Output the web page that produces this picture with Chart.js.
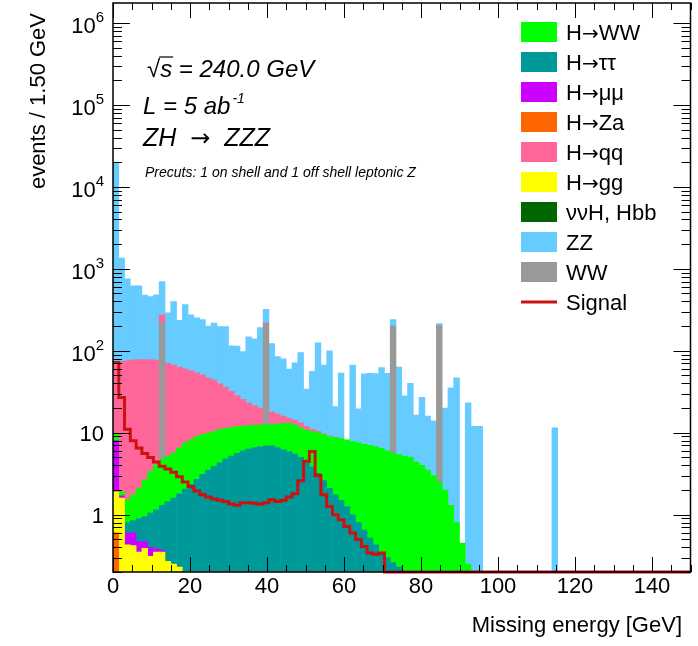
<!DOCTYPE html>
<html>
<head>
<meta charset="utf-8">
<script src="https://cdn.jsdelivr.net/npm/chart.js@4.4.1/dist/chart.umd.min.js"></script>
<style>
  body { margin: 0; background: #fff; }
  canvas { display: block; }
</style>
</head>
<body>
<canvas id="missing-energy" width="698" height="646"></canvas>
<script>
// Missing energy for ZH -> ZZZ, 100 bins of 1.5 GeV between 0 and 150 GeV
var BIN_WIDTH = 1.5;
var N_BINS = 100;
var X_MIN = 0, X_MAX = 150;
var Y_MIN = 0.2, Y_MAX = 1.75e6;
var FONT = '"Liberation Sans", Arial, Helvetica, sans-serif';
var SYMBOL_FONT = '"DejaVu Sans", sans-serif';

var x_ticks = [0, 20, 40, 60, 80, 100, 120, 140];
var y_ticks = [1, 10, 1e2, 1e3, 1e4, 1e5, 1e6];
var y_tick_labels = ['1', '10', '10^2', '10^3', '10^4', '10^5', '10^6'];

// events / bin, stacked bottom -> top in the order of the datasets below
var h_za = [
  0.6, 0, 0, 0, 0, 0, 0, 0, 0, 0,
  0, 0, 0, 0, 0, 0, 0, 0, 0, 0,
  0, 0, 0, 0, 0, 0, 0, 0, 0, 0,
  0, 0, 0, 0, 0, 0, 0, 0, 0, 0,
  0, 0, 0, 0, 0, 0, 0, 0, 0, 0,
  0, 0, 0, 0, 0, 0, 0, 0, 0, 0,
  0, 0, 0, 0, 0, 0, 0, 0, 0, 0,
  0, 0, 0, 0, 0, 0, 0, 0, 0, 0,
  0, 0, 0, 0, 0, 0, 0, 0, 0, 0,
  0, 0, 0, 0, 0, 0, 0, 0, 0, 0
];
var h_gg = [
  1.3, 1.6, 0.43, 0.42, 0.35, 0.39, 0.31, 0.35, 0.35, 0.27,
  0.25, 0.23, 0, 0, 0, 0, 0, 0, 0, 0,
  0, 0, 0, 0, 0, 0, 0, 0, 0, 0,
  0, 0, 0, 0, 0, 0, 0, 0, 0, 0,
  0, 0, 0, 0, 0, 0, 0, 0, 0, 0,
  0, 0, 0, 0, 0, 0, 0, 0, 0, 0,
  0, 0, 0, 0, 0, 0, 0, 0, 0, 0,
  0, 0, 0, 0, 0, 0, 0, 0, 0, 0,
  0, 0, 0, 0, 0, 0, 0, 0, 0, 0,
  0, 0, 0, 0, 0, 0, 0, 0, 0, 0
];
var h_mumu = [
  6.1, 0.1, 0.17, 0.18, 0.12, 0.08, 0.09, 0.03, 0.02, 0,
  0, 0, 0, 0, 0, 0, 0, 0, 0, 0,
  0, 0, 0, 0, 0, 0, 0, 0, 0, 0,
  0, 0, 0, 0, 0, 0, 0, 0, 0, 0,
  0, 0, 0, 0, 0, 0, 0, 0, 0, 0,
  0, 0, 0, 0, 0, 0, 0, 0, 0, 0,
  0, 0, 0, 0, 0, 0, 0, 0, 0, 0,
  0, 0, 0, 0, 0, 0, 0, 0, 0, 0,
  0, 0, 0, 0, 0, 0, 0, 0, 0, 0,
  0, 0, 0, 0, 0, 0, 0, 0, 0, 0
];
var h_tautau = [
  0, 0, 0.2, 0.25, 0.43, 0.48, 0.65, 0.77, 0.93, 1.18,
  1.35, 1.57, 2.05, 2.35, 2.7, 3.1, 3.5, 3.9, 4.3, 4.8,
  5.2, 5.6, 6.0, 6.3, 6.6, 6.8, 6.9, 6.9, 6.6, 6.2,
  5.9, 5.5, 5.0, 4.4, 3.8, 3.2, 2.6, 2.1, 1.75, 1.5,
  1.26, 1.0, 0.8, 0.65, 0.52, 0.43, 0.35, 0.3, 0.26, 0.23,
  0, 0, 0, 0, 0, 0, 0, 0, 0, 0,
  0, 0, 0, 0, 0, 0, 0, 0, 0, 0,
  0, 0, 0, 0, 0, 0, 0, 0, 0, 0,
  0, 0, 0, 0, 0, 0, 0, 0, 0, 0,
  0, 0, 0, 0, 0, 0, 0, 0, 0, 0
];
var h_ww = [
  1.5, 0.2, 0.72, 0.9, 1.2, 1.72, 2.32, 2.92, 3.4, 3.75,
  4.1, 4.75, 5.5, 5.85, 6.3, 6.4, 6.4, 6.5, 6.6, 6.5,
  6.4, 6.3, 6.0, 5.9, 5.7, 5.6, 5.6, 5.7, 6.2, 6.8,
  7.1, 7.0, 6.5, 6.4, 6.5, 6.8, 6.9, 6.9, 6.95, 7.0,
  6.94, 6.8, 6.8, 6.55, 6.48, 6.37, 6.05, 5.7, 5.34, 5.17,
  5.2, 5.0, 4.4, 4.0, 3.5, 3.0, 2.5, 2.0, 1.3, 0.8,
  0.45, 0.25, 0, 0, 0, 0, 0, 0, 0, 0,
  0, 0, 0, 0, 0, 0, 0, 0, 0, 0,
  0, 0, 0, 0, 0, 0, 0, 0, 0, 0,
  0, 0, 0, 0, 0, 0, 0, 0, 0, 0
];
var bkg_ww = [
  0, 0, 0, 0, 0, 0, 0, 0, 214, 0,
  0, 0, 0, 0, 0, 0, 0, 0, 0, 0,
  0, 0, 0, 0, 0, 0, 200, 0, 0, 0,
  0, 0, 0, 0, 0, 0, 0, 0, 0, 0,
  0, 0, 0, 0, 0, 0, 0, 0, 195, 0,
  0, 0, 0, 0, 0, 0, 200, 0, 0, 0,
  0, 0, 0, 0, 0, 0, 0, 0, 0, 0,
  0, 0, 0, 0, 0, 0, 0, 0, 0, 0,
  0, 0, 0, 0, 0, 0, 0, 0, 0, 0,
  0, 0, 0, 0, 0, 0, 0, 0, 0, 0
];
var h_qq = [
  61.5, 72, 74.5, 76, 76, 75, 74.5, 73, 56, 65,
  61, 56.5, 52.5, 48.8, 45, 41.5, 37, 33.6, 29, 24.7,
  20.4, 16.6, 13.5, 10.8, 9.2, 7.6, 6.5, 5.4, 4.2, 3.0,
  2.0, 1.7, 1.7, 1.2, 0.7, 0.4, 0.2, 0.15, 0.1, 0.05,
  0, 0, 0, 0, 0, 0, 0, 0, 0, 0,
  0, 0, 0, 0, 0, 0, 0, 0, 0, 0,
  0, 0, 0, 0, 0, 0, 0, 0, 0, 0,
  0, 0, 0, 0, 0, 0, 0, 0, 0, 0,
  0, 0, 0, 0, 0, 0, 0, 0, 0, 0,
  0, 0, 0, 0, 0, 0, 0, 0, 0, 0
];
var h_nunuh = [
  0, 0, 0, 0, 0, 0, 0, 0, 0, 0,
  0, 0, 0, 0, 0, 0, 0, 0, 0, 0,
  0, 0, 0, 0, 0, 0, 0, 0, 0, 0,
  0, 0, 0, 0, 0, 0, 0, 0, 0, 0,
  0, 0, 0, 0, 0, 0, 0, 0, 0, 0,
  0, 0, 0, 0, 0, 0, 0, 0, 0, 0,
  0, 0, 0, 0, 0, 0, 0, 0, 0, 0,
  0, 0, 0, 0, 0, 0, 0, 0, 0, 0,
  0, 0, 0, 0, 0, 0, 0, 0, 0, 0,
  0, 0, 0, 0, 0, 0, 0, 0, 0, 0
];
var bkg_zz = [
  19430, 1276, 679, 542, 542, 402, 382, 403, 425, 220,
  333, 172, 305, 218, 198, 189, 153, 174, 158, 162,
  83, 86, 72, 125, 118, 172, 101, 104, 68, 64,
  45, 57, 82, 22, 45, 115, 57, 91, 12, 45,
  0, 59, 12, 45, 46, 46, 56, 47, 39, 58,
  23, 35, 12, 23, 12.5, 11, 12.5, 18, 34, 46,
  0, 23, 12, 12, 0, 0, 0, 0, 0, 0,
  0, 0, 0, 0, 0, 0, 11.5, 0, 0, 0,
  0, 0, 0, 0, 0, 0, 0, 0, 0, 0,
  0, 0, 0, 0, 0, 0, 0, 0, 0, 0
];
// signal, drawn as an outline (not stacked)
var signal = [
  72, 27, 11, 8, 6.5, 5.6, 5.0, 4.4, 3.9, 3.6,
  3.3, 2.9, 2.5, 2.2, 1.95, 1.75, 1.65, 1.55, 1.5, 1.45,
  1.35, 1.3, 1.4, 1.4, 1.38, 1.35, 1.4, 1.52, 1.45, 1.5,
  1.65, 1.8, 2.6, 4.5, 5.9, 3.0, 1.75, 1.26, 1.0, 0.87,
  0.72, 0.6, 0.5, 0.41, 0.34, 0.33, 0.34, 0, 0, 0,
  0, 0, 0, 0, 0, 0, 0, 0, 0, 0,
  0, 0, 0, 0, 0, 0, 0, 0, 0, 0,
  0, 0, 0, 0, 0, 0, 0, 0, 0, 0,
  0, 0, 0, 0, 0, 0, 0, 0, 0, 0,
  0, 0, 0, 0, 0, 0, 0, 0, 0, 0
];

var legend_order = ['H→WW', 'H→ττ', 'H→μμ', 'H→Za', 'H→qq', 'H→gg', 'ννH, Hbb', 'ZZ', 'WW', 'Signal'];

function to_bins(values) {
  // bars sit on bin centres
  return values.map(function (v, i) { return { x: (i + 0.5) * BIN_WIDTH, y: v }; });
}

function to_steps(values) {
  // outline points on the low bin edges, empty bins go to the floor of the frame
  var pts = values.map(function (v, i) { return { x: i * BIN_WIDTH, y: v > 0 ? v : Y_MIN }; });
  var last = values[values.length - 1];
  pts.push({ x: N_BINS * BIN_WIDTH, y: last > 0 ? last : Y_MIN });
  return pts;
}

function stack_set(label, values, color) {
  return {
    type: 'bar',
    label: label,
    data: to_bins(values),
    backgroundColor: color,
    borderWidth: 0,
    barPercentage: 1,
    categoryPercentage: 1,
    stack: 'bkg',
    order: 1
  };
}

// text with the arrow taken from a symbol font, like ROOT's #rightarrow
function fill_with_arrow(ctx, text, x, y, font, arrow_font) {
  var parts = text.split('→');
  var cx = x;
  parts.forEach(function (p, i) {
    if (i > 0) {
      ctx.font = arrow_font;
      ctx.fillText('→', cx, y);
      cx += ctx.measureText('→').width;
    }
    ctx.font = font;
    ctx.fillText(p, cx, y);
    cx += ctx.measureText(p).width;
  });
}

// ROOT style frame: inside ticks on all sides, labels, texts and legend
var root_frame = {
  id: 'root_frame',
  afterDraw: function (chart) {
    var ctx = chart.ctx, a = chart.chartArea;
    var xs = chart.scales.x, ys = chart.scales.y;
    ctx.save();
    ctx.strokeStyle = '#000';
    ctx.fillStyle = '#000';
    ctx.lineWidth = 1;

    function seg(x1, y1, x2, y2) {
      ctx.beginPath(); ctx.moveTo(x1, y1); ctx.lineTo(x2, y2); ctx.stroke();
    }

    for (var v = X_MIN; v <= X_MAX; v += 5) {
      var px = Math.round(xs.getPixelForValue(v)) + 0.5;
      var len = (v % 20 === 0) ? 15 : 7;
      seg(px, a.bottom, px, a.bottom - len);
      seg(px, a.top, px, a.top + len);
    }
    for (var e = -1; e <= 6; e++) {
      for (var m = 1; m <= 9; m++) {
        var val = m * Math.pow(10, e);
        if (val < Y_MIN || val > Y_MAX) continue;
        var py = Math.round(ys.getPixelForValue(val)) + 0.5;
        var l = (m === 1) ? 17 : 9;
        seg(a.left, py, a.left + l, py);
        seg(a.right, py, a.right - l, py);
      }
    }
    ctx.lineWidth = 1.5;
    ctx.strokeRect(a.left, a.top, a.right - a.left, a.bottom - a.top);

    // x tick labels
    ctx.font = '22px ' + FONT;
    ctx.textAlign = 'center';
    ctx.textBaseline = 'alphabetic';
    x_ticks.forEach(function (t) {
      ctx.fillText(String(t), xs.getPixelForValue(t), 593);
    });

    // y tick labels, 10^n with a raised exponent
    y_ticks.forEach(function (t, i) {
      var py = ys.getPixelForValue(t);
      var parts = y_tick_labels[i].split('^');
      if (parts.length === 1) {
        ctx.font = '22px ' + FONT;
        ctx.textAlign = 'right';
        ctx.fillText(parts[0], 104, py + 8);
      } else {
        ctx.font = '15px ' + FONT;
        var w = ctx.measureText(parts[1]).width;
        ctx.textAlign = 'left';
        ctx.fillText(parts[1], 104 - w, py - 1);
        ctx.font = '22px ' + FONT;
        ctx.textAlign = 'right';
        ctx.fillText(parts[0], 104 - w, py + 10);
      }
    });

    // axis titles
    ctx.font = '22px ' + FONT;
    ctx.textAlign = 'right';
    ctx.fillText('Missing energy [GeV]', 682, 632);
    ctx.save();
    ctx.translate(45, 13);
    ctx.rotate(-Math.PI / 2);
    ctx.fillText('events / 1.50 GeV', 0, 0);
    ctx.restore();

    // labels in the frame
    ctx.textAlign = 'left';
    ctx.font = 'italic 24px ' + FONT;
    var root_w = ctx.measureText('√').width;
    ctx.fillText('√s = 240.0 GeV', 147, 77);
    ctx.lineWidth = 1.2;
    seg(147 + root_w - 1, 57, 147 + root_w + ctx.measureText('s').width + 1, 57);
    ctx.fillText('L = 5 ab', 143, 114);
    var lw = ctx.measureText('L = 5 ab').width;
    ctx.font = 'italic 14px ' + FONT;
    ctx.fillText('-1', 143 + lw + 2, 103);
    fill_with_arrow(ctx, 'ZH  →  ZZZ', 143, 146, 'italic 25px ' + FONT, '24px ' + SYMBOL_FONT);
    ctx.font = 'italic 14px ' + FONT;
    ctx.fillText('Precuts: 1 on shell and 1 off shell leptonic Z', 145, 177);

    // legend
    legend_order.forEach(function (name, i) {
      var ds = chart.data.datasets.find(function (d) { return d.label === name; });
      var cy = 32 + 30 * i;
      if (ds.type === 'line') {
        ctx.strokeStyle = ds.borderColor;
        ctx.lineWidth = 3;
        seg(521, cy, 557, cy);
      } else {
        ctx.fillStyle = ds.backgroundColor;
        ctx.fillRect(521, cy - 10, 36, 20);
      }
      ctx.fillStyle = '#000';
      fill_with_arrow(ctx, name, 566, cy + 8, '22px ' + FONT, '20px ' + SYMBOL_FONT);
    });
    ctx.restore();
  }
};

var ctx_me = document.getElementById('missing-energy').getContext('2d');
var me_chart = new Chart(ctx_me, {
  type: 'bar',
  data: {
    datasets: [
      {
        type: 'line',
        label: 'Signal',
        data: to_steps(signal),
        borderColor: '#cc1111',
        borderWidth: 3,
        stepped: 'before',
        pointRadius: 0,
        fill: false,
        stack: 'sig',
        order: 0,
        clip: 3
      },
      stack_set('H→Za', h_za, '#ff6600'),
      stack_set('H→gg', h_gg, '#ffff00'),
      stack_set('H→μμ', h_mumu, '#cc00ff'),
      stack_set('H→ττ', h_tautau, '#009999'),
      stack_set('H→WW', h_ww, '#00ff00'),
      stack_set('WW', bkg_ww, '#999999'),
      stack_set('H→qq', h_qq, '#ff6699'),
      stack_set('ννH, Hbb', h_nunuh, '#006600'),
      stack_set('ZZ', bkg_zz, '#66ccff')
    ]
  },
  options: {
    responsive: false,
    animation: false,
    devicePixelRatio: 1,
    layout: { padding: { left: 113, top: 3, right: 7.5, bottom: 74 } },
    plugins: { legend: { display: false }, tooltip: { enabled: false } },
    scales: {
      x: { type: 'linear', min: X_MIN, max: X_MAX, offset: false, display: false },
      y: { type: 'logarithmic', min: Y_MIN, max: Y_MAX, stacked: true, display: false }
    }
  },
  plugins: [root_frame]
});
</script>
</body>
</html>
